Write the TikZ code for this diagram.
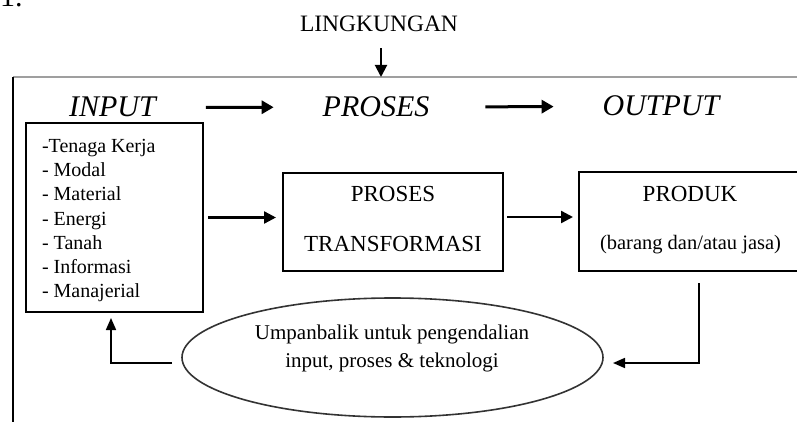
\documentclass[tikz,border=0pt]{standalone}
\usepackage{fontspec}
\setmainfont{Liberation Serif}
\usetikzlibrary{arrows.meta,shapes.geometric}
\newcommand{\fsz}[1]{\fontsize{#1}{#1}\selectfont}
\tikzset{
  txt/.style={inner sep=0pt, outer sep=0pt},
  boxnode/.style={draw, line width=1.6pt, inner sep=0pt, outer sep=0pt, anchor=north west},
  flow/.style={line width=3pt, -{Triangle[length=12pt,width=13pt]}},
  link/.style={line width=2.4pt, -{Triangle[length=12pt,width=12pt]}},
  back/.style={line width=1.7pt, -{Triangle[length=12pt,width=10pt]}},
  stage/.style={txt, anchor=base, font=\fsz{30}\itshape},
}
\begin{document}
\begin{tikzpicture}[x=1pt,y=-1pt]
\clip (0,0) rectangle (797,422);

% numbering left over from the surrounding page
\node[txt, anchor=base west, font=\fsz{30}] (num) at (0,7) {1.};

% environment and system frame
\node[txt, anchor=base, font=\fsz{23.5}] (lk) at (379,32) {LINGKUNGAN};
\coordinate (frametop) at (381,77);
\draw[gray!75, line width=2.4pt] (13,77) -- (797,77);
\draw[line width=1.6pt] (13,77) -- (13,422);
\draw[link, line width=2pt, shorten <=16pt] (lk.south -| frametop) -- (frametop);

% stage headings
\node[stage] (hin)  at (112.5,117) {INPUT};
\node[stage] (hpr)  at (376,117) {PROSES};
\node[stage] (hout) at (661,116) {OUTPUT};
\draw[flow, shorten <=50pt, shorten >=49pt] (hin) -- (hpr);
\draw[flow, shorten <=56pt, shorten >=49pt] (hpr) -- (hout);

% input box and its items
\node[boxnode, minimum width=177pt, minimum height=189pt] (inbox) at (26,123) {};
\foreach \t [count=\i] in {-Tenaga Kerja, - Modal, - Material, - Energi, - Tanah, - Informasi, - Manajerial}
  \node[txt, anchor=base west, font=\fsz{20}] (item\i) at (42,{152.5+24.2*(\i-1)}) {\t};

% transformation box
\node[boxnode, minimum width=220pt, minimum height=98pt] (pros) at (283,173) {};
\node[txt, anchor=base, font=\fsz{23}] (pros1) at (393,201.7) {PROSES};
\node[txt, anchor=base, font=\fsz{23}] (pros2) at (393,251.7) {TRANSFORMASI};

% output box (runs past the right edge)
\node[boxnode, minimum width=240pt, minimum height=99pt] (prod) at (579,172) {};
\node[txt, anchor=base, font=\fsz{23}] (prod1) at (690,201.7) {PRODUK};
\node[txt, anchor=base, font=\fsz{20.5}] (prod2) at (690.5,249) {(barang dan/atau jasa)};

\draw[link, shorten <=5pt, shorten >=7pt] (inbox.east) -- (inbox.east -| pros.west);
\draw[link, shorten <=4pt, shorten >=6pt] ([yshift=5pt]pros.east) -- ([yshift=5pt]pros.east -| prod.west);

% feedback loop
\node[draw=black!80, line width=1.6pt, ellipse, inner sep=0pt, outer sep=0pt,
      minimum width=421pt, minimum height=119pt] (fb) at (392.5,357.5) {};
\node[txt, anchor=base, font=\fsz{21}] (fb1) at (392,339) {Umpanbalik untuk pengendalian};
\node[txt, anchor=base, font=\fsz{21}] (fb2) at (392,367) {input, proses \& teknologi};

\draw[back, shorten <=12pt, shorten >=10pt] (prod.south) |- ([yshift=-5.5pt]fb.east);
\draw[back, shorten <=10pt, shorten >=6pt] ([yshift=-5.5pt]fb.west) -| ([xshift=-3.5pt]inbox.south);
\end{tikzpicture}
\end{document}
